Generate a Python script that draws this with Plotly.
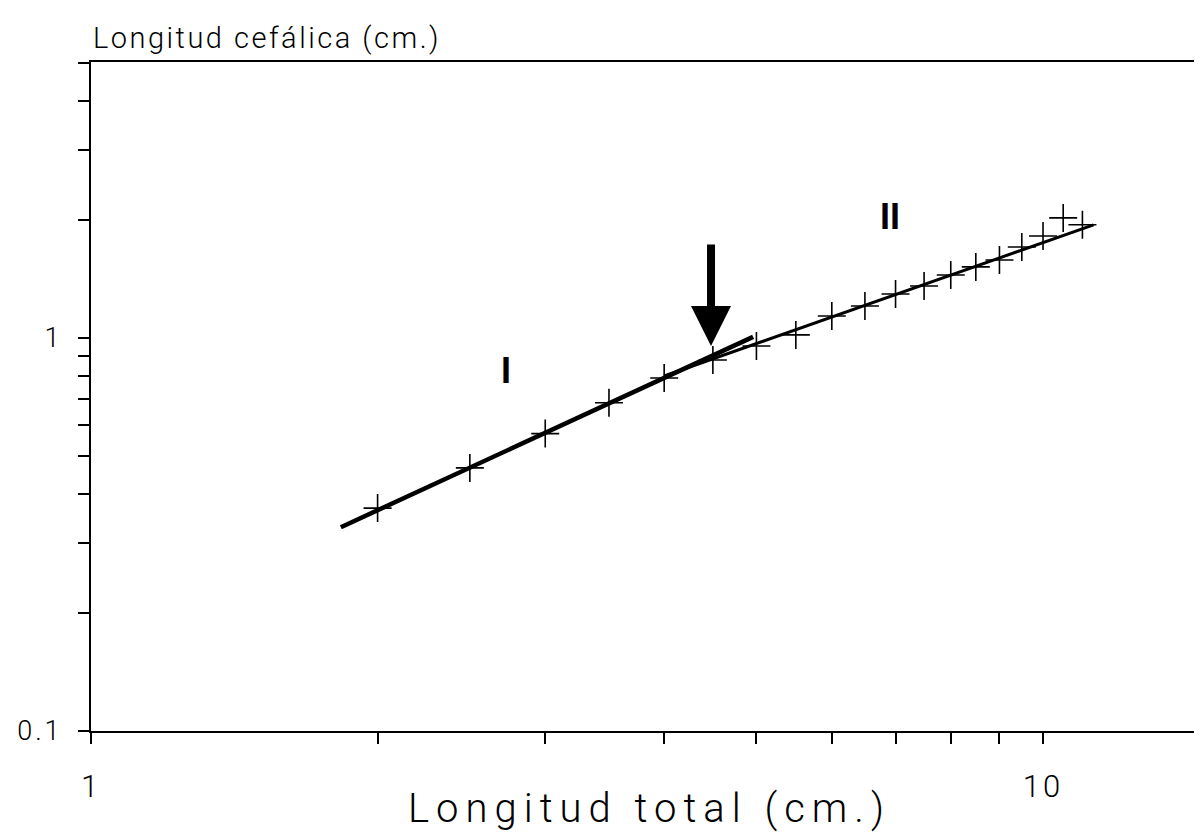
import numpy as np
import plotly.graph_objects as go

# Data
longitud_total = [2.0, 2.5, 3.0, 3.5, 4.0, 4.5, 5.0, 5.5, 6.0, 6.5, 7.0,
                  7.5, 8.0, 8.5, 9.0, 9.5, 10.0, 10.5, 11.0]
longitud_cefalica = [0.369, 0.467, 0.571, 0.684, 0.791, 0.879, 0.954, 1.018,
                     1.137, 1.206, 1.294, 1.356, 1.446, 1.516, 1.579, 1.704,
                     1.817, 2.02, 1.94]

# Fitted lines (phase I and phase II)
fase1_x = [1.83, 4.96]
fase1_y = [0.33, 1.006]
fase2_x = [4.0, 11.3]
fase2_y = [0.80, 1.94]

# Inflection (arrow) point
inflexion_x = 4.48
inflexion_y = 0.954

x_tickvals = [1, 2, 3, 4, 5, 6, 7, 8, 9, 10]
x_ticktext = ["1", "", "", "", "", "", "", "", "", "10"]
y_tickvals = [0.1, 0.2, 0.3, 0.4, 0.5, 0.6, 0.7, 0.8, 0.9, 1, 2, 3, 4, 5]
y_ticktext = ["0.1", "", "", "", "", "", "", "", "", "1", "", "", "", ""]

FONT = "Roboto, Liberation Sans, Arial, sans-serif"


def spaced(t, px):
    return f"<span style='letter-spacing:{px}px'>{t}</span>"


fig = go.Figure()
fig.add_trace(go.Scatter(x=fase1_x, y=fase1_y, mode="lines",
                         line=dict(color="black", width=4.5), showlegend=False))
fig.add_trace(go.Scatter(x=fase2_x, y=fase2_y, mode="lines",
                         line=dict(color="black", width=3), showlegend=False))
fig.add_trace(go.Scatter(x=longitud_total, y=longitud_cefalica, mode="markers",
                         marker=dict(symbol="cross-thin", size=20, color="black",
                                     line=dict(color="black", width=1.6)),
                         showlegend=False))

fig.update_xaxes(type="log", range=[0, 1.1733], showline=True, linecolor="black",
                 linewidth=2, mirror=True, ticks="outside", ticklen=11, tickwidth=1.6,
                 tickcolor="black", tickvals=x_tickvals, automargin=False,
                 ticktext=[spaced(t, 3) if t else "" for t in x_ticktext],
                 showgrid=False, zeroline=False, ticklabelstandoff=16,
                 tickfont=dict(family=FONT, size=31, color="black", weight=300))
fig.update_yaxes(type="log", range=[-1, 0.702], showline=True, linecolor="black",
                 linewidth=2, mirror=True, ticks="outside", ticklen=11, tickwidth=1.6,
                 tickcolor="black", tickvals=y_tickvals, automargin=False,
                 ticktext=[spaced(t, 3) if t else "" for t in y_ticktext],
                 showgrid=False, zeroline=False, ticklabelstandoff=10,
                 tickfont=dict(family=FONT, size=27, color="black", weight=300))

annotations = [
    dict(x=np.log10(inflexion_x), y=np.log10(inflexion_y), xref="x", yref="y",
         text="", showarrow=True, arrowhead=2, arrowsize=1, arrowwidth=8,
         arrowcolor="black", ax=0, ay=-103, standoff=0),
    dict(x=np.log10(2.73), y=np.log10(0.824), xref="x", yref="y", text="<b>I</b>",
         showarrow=False, font=dict(family="Liberation Sans, Arial", size=36, color="black")),
    dict(x=np.log10(6.91), y=np.log10(2.04), xref="x", yref="y", text="<b>II</b>",
         showarrow=False, font=dict(family="Liberation Sans, Arial", size=36, color="black")),
    dict(x=0, y=1, xref="paper", yref="paper", xanchor="left", yanchor="bottom",
         yshift=5, text=spaced("Longitud cefálica (cm.)", 2.5), showarrow=False,
         font=dict(family=FONT, size=29, color="black", weight=300)),
    dict(x=0.5, y=0, xref="paper", yref="paper", xanchor="center", yanchor="top",
         yshift=-52, text=spaced("Longitud total (cm.)", 7), showarrow=False,
         font=dict(family=FONT, size=40, color="black", weight=300)),
]

fig.update_layout(width=1202, height=840, margin=dict(l=83, r=2, t=54, b=117),
                  plot_bgcolor="white", paper_bgcolor="white",
                  annotations=annotations, showlegend=False)

fig.write_html("out.html")
